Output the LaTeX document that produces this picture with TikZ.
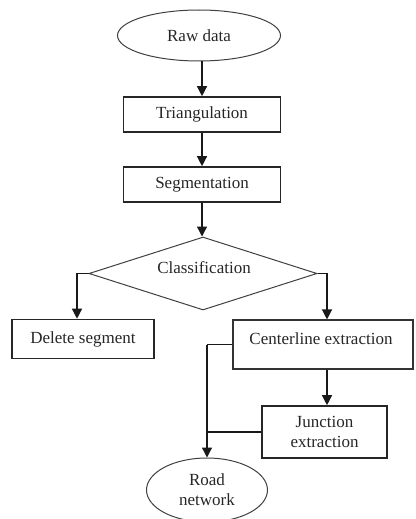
\documentclass[tikz,border=0pt]{standalone}
\usepackage{fontspec}
\setmainfont{Liberation Serif}
\usetikzlibrary{shapes.geometric,arrows.meta}
\begin{document}
\begin{tikzpicture}[x=1pt,y=-1pt,
  box/.style={draw=black!85,line width=1.6pt,rectangle,inner sep=0pt},
  thinbox/.style={draw=black!80,line width=1.1pt,rectangle,inner sep=0pt},
  oval/.style={draw=black!75,line width=1pt,ellipse,inner sep=0pt},
  dia/.style={draw=black!75,line width=1pt,diamond,inner sep=0pt},
  conn/.style={draw=black!90,line width=1.3pt,-{Triangle[width=10pt,length=10pt]}},
  plain/.style={draw=black!90,line width=1.3pt},
  txt/.style={inner sep=0pt},
  every node/.style={font=\fontsize{17}{20}\selectfont, text=black!85}]
\useasboundingbox (0,0) rectangle (415,519);
\clip (0,0) rectangle (415,519);
\node[oval,minimum width=163pt,minimum height=51pt] (raw) at (199,35.5) {Raw data};
\node[box,minimum width=157pt,minimum height=35pt] (tri) at (202,114.5) {Triangulation};
\node[box,minimum width=157pt,minimum height=35pt] (seg) at (202,184.5) {Segmentation};
\node[dia,aspect=3.12,minimum width=228pt,minimum height=73pt] (cls) at (203,273.5) {};
\node[txt] (clst) at (204,268) {Classification};
\node[box,minimum width=142pt,minimum height=39pt] (del) at (83,339) {Delete segment};
\node[thinbox,minimum width=180pt,minimum height=49pt] (cl) at (323,344.5) {};
\node[txt] (clt) at (321,339) {Centerline extraction};
\node[box,minimum width=125pt,minimum height=52pt,align=center] (jn) at (324.5,432) {Junction\\extraction};
\node[oval,minimum width=121pt,minimum height=64pt,align=center] (road) at (207,490) {Road\\network};
\draw[conn] (tri.north |- raw.south) -- (tri.north);
\draw[conn] (tri.south) -- (seg.north);
\draw[conn] (seg.south) -- (seg.south |- cls.north);
\draw[conn] (cls.west) -| ([xshift=-6pt]del.north);
\draw[conn] (cls.east) -| ([xshift=4pt]cl.north);
\draw[conn] ([xshift=4pt]cl.south) -- ([xshift=4pt]cl.south |- jn.north);
\coordinate (m1) at (cl.west -| road.north);
\draw[plain] (cl.west) -- (m1);
\draw[plain] (jn.west) -- (jn.west -| road.north);
\draw[conn] (m1) -- (road.north);
\end{tikzpicture}
\end{document}
